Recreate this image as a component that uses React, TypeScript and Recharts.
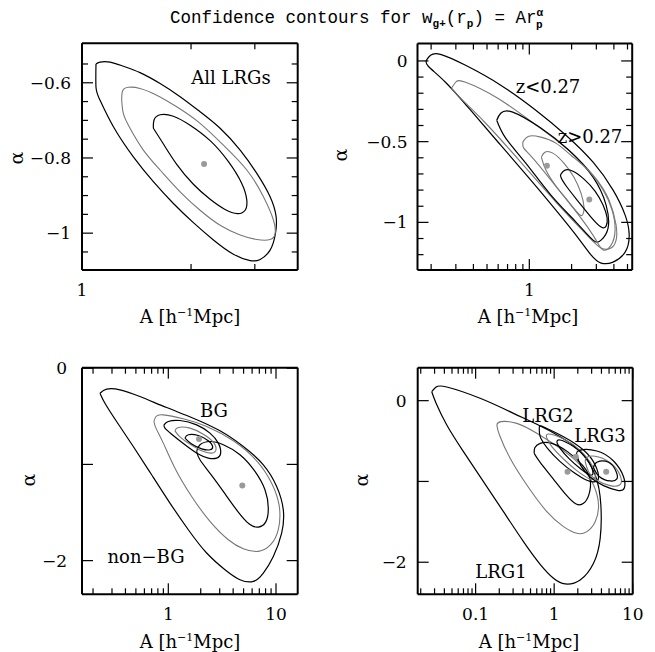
import React from 'react';
import { ComposedChart, Line, XAxis, YAxis } from 'recharts';

// contour vertices as [A, alpha]
// panel 1: all LRGs
const allOuter = [[1.093,-0.550],[1.121,-0.545],[1.195,-0.545],[1.301,-0.556],[1.446,-0.573],[1.643,-0.602],[1.866,-0.637],[2.118,-0.677],[2.406,-0.721],[2.733,-0.779],[3.038,-0.841],[3.306,-0.903],[3.435,-0.956],[3.420,-1.001],[3.306,-1.045],[3.103,-1.070],[2.912,-1.073],[2.618,-1.056],[2.306,-1.018],[2.030,-0.972],[1.788,-0.921],[1.574,-0.863],[1.386,-0.797],[1.221,-0.717],[1.121,-0.646],[1.093,-0.612],[1.093,-0.550]];
const allMid = [[1.287,-0.646],[1.295,-0.621],[1.343,-0.612],[1.446,-0.615],[1.608,-0.633],[1.826,-0.664],[2.118,-0.708],[2.457,-0.766],[2.851,-0.832],[3.169,-0.903],[3.377,-0.965],[3.413,-1.001],[3.306,-1.017],[3.038,-1.017],[2.733,-1.005],[2.406,-0.979],[2.118,-0.939],[1.866,-0.890],[1.643,-0.832],[1.477,-0.779],[1.357,-0.721],[1.301,-0.682],[1.287,-0.646]];
const allInner = [[1.574,-0.721],[1.581,-0.699],[1.643,-0.685],[1.788,-0.689],[1.988,-0.713],[2.258,-0.754],[2.537,-0.810],[2.761,-0.868],[2.851,-0.912],[2.821,-0.939],[2.686,-0.948],[2.483,-0.937],[2.258,-0.910],[2.030,-0.870],[1.826,-0.817],[1.678,-0.763],[1.574,-0.721]];
const allBest = [[2.173,-0.816]];

// panel 2: z<0.27 / z>0.27
const zA = [[0.185,0.004],[0.198,0.035],[0.233,0.041],[0.352,-0.027],[0.626,-0.150],[1.112,-0.305],[1.823,-0.460],[2.843,-0.627],[3.948,-0.800],[4.81,-0.955],[5.14,-1.079],[4.81,-1.184],[3.948,-1.246],[3.243,-1.252],[2.749,-1.202],[2.149,-1.079],[1.546,-0.924],[1.025,-0.738],[0.626,-0.522],[0.382,-0.305],[0.253,-0.132],[0.191,-0.033],[0.185,0.004]];
const zB = [[0.279,-0.169],[0.299,-0.132],[0.352,-0.132],[0.596,-0.231],[1.025,-0.373],[1.763,-0.528],[2.843,-0.707],[3.697,-0.862],[4.148,-1.017],[4.148,-1.110],[3.82,-1.159],[3.243,-1.159],[2.534,-1.073],[1.546,-0.874],[0.869,-0.627],[0.489,-0.386],[0.324,-0.231],[0.279,-0.169]];
const zC = [[0.586,-0.367],[0.626,-0.324],[0.762,-0.317],[1.208,-0.416],[1.915,-0.553],[2.843,-0.720],[3.52,-0.893],[3.636,-1.035],[3.243,-1.110],[2.843,-1.110],[2.149,-0.998],[1.425,-0.831],[0.944,-0.633],[0.679,-0.478],[0.586,-0.367]];
const zD = [[0.899,-0.503],[0.992,-0.466],[1.208,-0.472],[1.546,-0.509],[1.978,-0.584],[2.618,-0.676],[3.35,-0.800],[3.882,-0.924],[4.08,-1.048],[3.82,-1.141],[3.35,-1.171],[2.985,-1.110],[2.45,-0.998],[1.853,-0.862],[1.425,-0.738],[1.059,-0.602],[0.913,-0.540],[0.899,-0.503]];
const zE = [[1.218,-0.596],[1.291,-0.565],[1.472,-0.571],[1.763,-0.633],[2.079,-0.720],[2.333,-0.819],[2.45,-0.905],[2.41,-0.949],[2.258,-0.949],[1.884,-0.868],[1.546,-0.775],[1.312,-0.676],[1.218,-0.596]];
const zF = [[1.679,-0.701],[1.794,-0.676],[2.046,-0.683],[2.45,-0.732],[2.936,-0.806],[3.35,-0.893],[3.58,-0.973],[3.52,-1.023],[3.243,-1.029],[2.749,-0.967],[2.22,-0.868],[1.853,-0.781],[1.679,-0.720],[1.679,-0.701]];
const zBest = [[1.334,-0.650],[2.673,-0.858]];

// panel 3: BG / non-BG
const nbOuter = [[0.232,-0.260],[0.2676,-0.218],[0.3557,-0.225],[0.5455,-0.295],[0.965,-0.409],[1.707,-0.520],[3.018,-0.651],[4.971,-0.814],[7.623,-1.004],[10.14,-1.229],[11.69,-1.472],[11.28,-1.714],[9.44,-1.956],[7.623,-2.129],[6.155,-2.216],[4.628,-2.198],[3.359,-2.094],[2.27,-1.921],[1.534,-1.679],[1.036,-1.402],[0.700,-1.108],[0.473,-0.814],[0.331,-0.554],[0.258,-0.364],[0.232,-0.260]];
const nbMid = [[0.736,-0.554],[0.768,-0.502],[0.899,-0.485],[1.378,-0.526],[2.27,-0.606],[4.013,-0.755],[6.61,-0.963],[9.11,-1.195],[10.73,-1.437],[10.50,-1.679],[8.917,-1.835],[6.85,-1.904],[4.971,-1.876],[3.607,-1.783],[2.437,-1.592],[1.647,-1.333],[1.153,-1.039],[0.899,-0.779],[0.768,-0.623],[0.736,-0.554]];
const nbInner = [[1.833,-0.866],[1.968,-0.796],[2.437,-0.762],[3.242,-0.796],[4.628,-0.900],[6.378,-1.073],[7.90,-1.264],[8.48,-1.454],[8.01,-1.600],[6.85,-1.651],[5.65,-1.620],[4.372,-1.482],[3.288,-1.291],[2.472,-1.101],[1.968,-0.952],[1.833,-0.866]];
const bgOuter = [[0.912,-0.589],[1.0,-0.554],[1.283,-0.544],[1.833,-0.589],[2.437,-0.675],[2.913,-0.779],[3.062,-0.883],[2.811,-0.935],[2.352,-0.935],[1.899,-0.893],[1.428,-0.796],[1.074,-0.686],[0.931,-0.623],[0.912,-0.589]];
const bgMid = [[1.153,-0.651],[1.238,-0.616],[1.589,-0.623],[2.113,-0.686],[2.617,-0.769],[2.771,-0.848],[2.526,-0.883],[2.04,-0.859],[1.589,-0.789],[1.283,-0.713],[1.153,-0.651]];
const bgInner = [[1.428,-0.727],[1.534,-0.692],[1.899,-0.700],[2.352,-0.755],[2.58,-0.814],[2.437,-0.848],[2.04,-0.838],[1.647,-0.789],[1.428,-0.727]];
const bgBest = [[1.927,-0.737],[4.865,-1.219]];

// panel 4: LRG1 / LRG2 / LRG3
const l1Outer = [[0.02764,0.111],[0.03139,0.169],[0.04293,0.169],[0.1141,0.029],[0.3034,-0.157],[0.6015,-0.293],[1.192,-0.446],[2.144,-0.631],[3.330,-0.920],[3.931,-1.291],[3.855,-1.704],[3.170,-2.013],[2.144,-2.220],[1.381,-2.269],[0.9806,-2.199],[0.6633,-2.026],[0.4068,-1.745],[0.2262,-1.374],[0.1258,-1.002],[0.06998,-0.631],[0.04293,-0.301],[0.03139,-0.033],[0.02764,0.111]];
const l1Mid = [[0.1861,-0.301],[0.2092,-0.260],[0.3345,-0.281],[0.6015,-0.404],[1.192,-0.590],[2.144,-0.796],[3.170,-1.044],[3.671,-1.291],[3.330,-1.498],[2.607,-1.621],[1.944,-1.642],[1.315,-1.559],[0.8065,-1.374],[0.4485,-1.044],[0.2751,-0.714],[0.2012,-0.425],[0.1861,-0.301]];
const l1Inner = [[0.5561,-0.652],[0.5671,-0.582],[0.6633,-0.528],[0.9338,-0.528],[1.479,-0.631],[2.319,-0.804],[2.874,-0.982],[2.764,-1.167],[2.364,-1.271],[1.906,-1.279],[1.422,-1.167],[0.9617,-0.961],[0.6633,-0.763],[0.5561,-0.652]];
const l2Outer = [[0.6506,-0.404],[0.6506,-0.318],[0.768,-0.334],[1.315,-0.446],[2.364,-0.611],[3.330,-0.796],[3.671,-0.953],[3.330,-1.002],[2.607,-0.986],[1.763,-0.887],[1.192,-0.755],[0.8225,-0.590],[0.6763,-0.466],[0.6506,-0.404]];
const l2Mid = [[0.8065,-0.466],[0.8469,-0.413],[1.315,-0.474],[2.144,-0.615],[3.108,-0.817],[3.330,-0.941],[2.874,-0.969],[1.944,-0.866],[1.315,-0.722],[0.9338,-0.569],[0.8065,-0.466]];
const l2Inner = [[1.081,-0.516],[1.192,-0.487],[1.763,-0.569],[2.607,-0.722],[3.108,-0.879],[2.874,-0.920],[2.187,-0.846],[1.537,-0.714],[1.192,-0.590],[1.081,-0.516]];
const l3Outer = [[1.944,-0.672],[2.102,-0.615],[3.495,-0.623],[5.70,-0.747],[7.642,-0.941],[7.793,-1.085],[6.409,-1.110],[4.251,-1.052],[2.874,-0.945],[2.187,-0.804],[1.944,-0.672]];
const l3Mid = [[2.483,-0.755],[2.659,-0.697],[3.671,-0.697],[5.589,-0.796],[7.069,-0.953],[6.798,-1.044],[5.169,-1.052],[3.495,-0.986],[2.737,-0.879],[2.483,-0.755]];
const l3Inner = [[3.170,-0.829],[3.495,-0.763],[4.922,-0.763],[6.165,-0.879],[6.286,-0.969],[5.169,-0.994],[3.78,-0.941],[3.170,-0.829]];
const lrgBest = [[1.479,-0.879],[1.888,-0.693],[4.597,-0.879]];

// ticks and tick labels
const p1XTicks = [1, 2, 3];
const p1XLabels = [[1, '1']];
const p1YTicks = [-1.05, -1, -0.95, -0.9, -0.85, -0.8, -0.75, -0.7, -0.65, -0.6, -0.55];
const p1YLabels = [[-0.6, '−0.6'], [-0.8, '−0.8'], [-1, '−1']];
const p2XTicks = [0.2, 0.3, 0.4, 0.5, 0.6, 0.7, 0.8, 0.9, 1, 2, 3, 4, 5];
const p2XLabels = [[1, '1']];
const p2YTicks = [-1.2, -1.1, -1, -0.9, -0.8, -0.7, -0.6, -0.5, -0.4, -0.3, -0.2, -0.1, 0];
const p2YLabels = [[0, '0'], [-0.5, '−0.5'], [-1, '−1']];
const p3XTicks = [0.2, 0.3, 0.4, 0.5, 0.6, 0.7, 0.8, 0.9, 1, 2, 3, 4, 5, 6, 7, 8, 9, 10];
const p3XLabels = [[1, '1'], [10, '10']];
const p34YTicks = [-2, -1, 0];
const p34YLabels = [[0, '0'], [-2, '−2']];
const p4XTicks = [0.02, 0.03, 0.04, 0.05, 0.06, 0.07, 0.08, 0.09, 0.1, 0.2, 0.3, 0.4, 0.5, 0.6, 0.7, 0.8, 0.9, 1, 2, 3, 4, 5, 6, 7, 8, 9, 10];
const p4XLabels = [[0.1, '0.1'], [1, '1'], [10, '10']];

const BLACK = '#000';
const GREY = '#777';
const SERIF = 'DejaVu Serif';
const MINOR = 6;
const MAJOR = 11;
const THIN = 0.01; // an axis must have some size to be drawn

const toRows = (pts: number[][]) => pts.map(([a, al]) => ({ a, al }));
const near = (u: number, v: number) => Math.abs(u - v) < 1e-9;

// mirrored axes: the tick anchor arrives MINOR px inside the frame, step back to the edge and draw inward
function axisTick(side: string, majors: number[], labels: any[] | null, gap = 10) {
  return (p: any) => {
    const x = Number(p.x);
    const y = Number(p.y);
    const v = Number(p.payload.value);
    const len = majors.some((m) => near(m, v)) ? MAJOR : MINOR;
    let ex = x;
    let ey = y;
    let r = { x: 0, y: 0, w: 0, h: 0 };
    if (side === 'bottom') { ey = y + MINOR; r = { x: x - 0.6, y: ey - len, w: 1.2, h: len }; }
    if (side === 'top') { ey = y - MINOR; r = { x: x - 0.6, y: ey, w: 1.2, h: len }; }
    if (side === 'left') { ex = x - MINOR; r = { x: ex, y: y - 0.6, w: len, h: 1.2 }; }
    if (side === 'right') { ex = x + MINOR; r = { x: ex - len, y: y - 0.6, w: len, h: 1.2 }; }
    const lab = labels ? labels.find((l) => near(l[0], v)) : null;
    return (
      <g>
        <rect x={r.x} y={r.y} width={r.w} height={r.h} fill="#000" />
        {lab && side === 'bottom' && (
          <text x={x} y={ey + 26} textAnchor="middle" fontFamily={SERIF} fontSize={17} fill="#000">{lab[1]}</text>
        )}
        {lab && side === 'left' && (
          <text x={ex - gap} y={y + 6} textAnchor="end" fontFamily={SERIF} fontSize={17} fill="#000">{lab[1]}</text>
        )}
      </g>
    );
  };
}

const Panel = ({ chart, box, xDomain, yDomain, xTicks, yTicks, xMajor, yMajor, xLabels, yLabels, contours, best, gap }: any) => {
  const margin = {
    left: box.x0 - chart.left,
    top: box.y0 - chart.top,
    right: chart.left + chart.width - box.x1,
    bottom: chart.top + chart.height - box.y1,
  };
  const frame = { stroke: '#000', strokeWidth: 2 };
  const xCommon = { dataKey: 'a', type: 'number' as const, scale: 'log' as const, domain: xDomain, allowDataOverflow: true, interval: 0, height: THIN, tickSize: MINOR, tickMargin: 0, mirror: true, tickLine: false, axisLine: frame, ticks: xTicks };
  const yCommon = { type: 'number' as const, domain: yDomain, allowDataOverflow: true, interval: 0, width: THIN, tickSize: MINOR, tickMargin: 0, mirror: true, tickLine: false, axisLine: frame, ticks: yTicks };
  return (
    <div style={{ position: 'absolute', left: chart.left, top: chart.top }}>
      <ComposedChart width={chart.width} height={chart.height} margin={margin}>
        <XAxis xAxisId="b" {...xCommon} tick={axisTick('bottom', xMajor, xLabels)} />
        <XAxis xAxisId="t" {...xCommon} orientation="top" tick={axisTick('top', xMajor, null)} />
        <YAxis yAxisId="l" {...yCommon} tick={axisTick('left', yMajor, yLabels, gap)} />
        <YAxis yAxisId="r" {...yCommon} orientation="right" tick={axisTick('right', yMajor, null)} />
        {contours.map((c: any, i: number) => (
          <Line key={i} xAxisId="b" yAxisId="l" data={toRows(c.pts)} dataKey="al" type="natural" stroke={c.color} strokeWidth={c.color === BLACK ? 1.2 : 1.1} dot={false} isAnimationActive={false} />
        ))}
        <Line xAxisId="t" yAxisId="r" data={toRows(best)} dataKey="al" stroke="none" dot={{ r: 3, fill: '#9a9a9a', stroke: 'none' }} isAnimationActive={false} />
      </ComposedChart>
    </div>
  );
};

const XTitle = ({ cx, y }: any) => (
  <text x={cx} y={y} textAnchor="middle" fontFamily={SERIF} fontSize={18}>
    A [h<tspan dy={-7} fontSize={11}>−1</tspan><tspan dy={7}>Mpc]</tspan>
  </text>
);

const Alpha = ({ x, y }: any) => (
  <text x={x} y={y} textAnchor="middle" fontFamily={SERIF} fontSize={19} transform={`rotate(-90 ${x} ${y})`} dominantBaseline="middle">α</text>
);

const Note = ({ x, y, children }: any) => (
  <text x={x} y={y} textAnchor="middle" fontFamily={SERIF} fontSize={18}>{children}</text>
);

export default function App() {
  return (
    <div style={{ position: 'absolute', left: 0, top: 0, width: 655, height: 652, background: '#fff' }}>
      <Panel
        chart={{ left: 0, top: 30, width: 327, height: 300 }}
        box={{ x0: 82, x1: 297.7, y0: 43.3, y1: 270 }}
        xDomain={[1, 3.94]} yDomain={[-1.098, -0.495]}
        xTicks={p1XTicks} yTicks={p1YTicks} xMajor={[1]} yMajor={[-0.6, -0.8, -1]}
        xLabels={p1XLabels} yLabels={p1YLabels} gap={11}
        contours={[{ pts: allOuter, color: BLACK }, { pts: allMid, color: GREY }, { pts: allInner, color: BLACK }]}
        best={allBest}
      />
      <Panel
        chart={{ left: 330, top: 30, width: 325, height: 300 }}
        box={{ x0: 417.5, x1: 632.2, y0: 43.5, y1: 270 }}
        xDomain={[0.16, 5.4]} yDomain={[-1.295, 0.108]}
        xTicks={p2XTicks} yTicks={p2YTicks} xMajor={[1]} yMajor={[0, -0.5, -1]}
        xLabels={p2XLabels} yLabels={p2YLabels} gap={10}
        contours={[{ pts: zA, color: BLACK }, { pts: zB, color: GREY }, { pts: zC, color: BLACK }, { pts: zD, color: GREY }, { pts: zE, color: GREY }, { pts: zF, color: BLACK }]}
        best={zBest}
      />
      <Panel
        chart={{ left: 0, top: 350, width: 327, height: 302 }}
        box={{ x0: 82, x1: 297.7, y0: 367.7, y1: 594.3 }}
        xDomain={[0.158, 15.9]} yDomain={[-2.35, 0.005]}
        xTicks={p3XTicks} yTicks={p34YTicks} xMajor={[1, 10]} yMajor={[0, -1, -2]}
        xLabels={p3XLabels} yLabels={p34YLabels} gap={15}
        contours={[{ pts: nbOuter, color: BLACK }, { pts: nbMid, color: GREY }, { pts: nbInner, color: BLACK }, { pts: bgOuter, color: BLACK }, { pts: bgMid, color: GREY }, { pts: bgInner, color: BLACK }]}
        best={bgBest}
      />
      <Panel
        chart={{ left: 330, top: 350, width: 325, height: 302 }}
        box={{ x0: 417.7, x1: 632.7, y0: 367.7, y1: 594.3 }}
        xDomain={[0.0183, 10]} yDomain={[-2.397, 0.408]}
        xTicks={p4XTicks} yTicks={p34YTicks} xMajor={[0.1, 1, 10]} yMajor={[0, -1, -2]}
        xLabels={p4XLabels} yLabels={p34YLabels} gap={11}
        contours={[{ pts: l1Outer, color: BLACK }, { pts: l1Mid, color: GREY }, { pts: l1Inner, color: BLACK }, { pts: l2Outer, color: BLACK }, { pts: l2Mid, color: GREY }, { pts: l2Inner, color: BLACK }, { pts: l3Outer, color: BLACK }, { pts: l3Mid, color: GREY }, { pts: l3Inner, color: BLACK }]}
        best={lrgBest}
      />
      <svg width={655} height={652} style={{ position: 'absolute', left: 0, top: 0, pointerEvents: 'none' }}>
        <text x={170} y={23} fontFamily="Liberation Mono" fontSize={17.5}>
          Confidence contours for w<tspan dy={4} fontSize={11} fontWeight="bold">g+</tspan>
          <tspan dy={-4}>(r</tspan><tspan dy={4} fontSize={11} fontWeight="bold">p</tspan>
          <tspan dy={-4}>) = Ar</tspan><tspan dy={-7} fontSize={11} fontWeight="bold">α</tspan>
          <tspan dx={-7} dy={12} fontSize={11} fontWeight="bold">p</tspan>
        </text>
        <XTitle cx={190} y={323} />
        <XTitle cx={528} y={323} />
        <XTitle cx={190} y={648} />
        <XTitle cx={529} y={648} />
        <Alpha x={18} y={158} />
        <Alpha x={342} y={155} />
        <Alpha x={30} y={480} />
        <Alpha x={363} y={480} />
        <Note x={231} y={84}>All LRGs</Note>
        <Note x={548} y={93}>z&lt;0.27</Note>
        <Note x={590} y={143}>z&gt;0.27</Note>
        <Note x={214} y={417}>BG</Note>
        <Note x={146} y={563}>non−BG</Note>
        <Note x={548} y={422}>LRG2</Note>
        <Note x={600} y={442}>LRG3</Note>
        <Note x={501} y={578}>LRG1</Note>
      </svg>
    </div>
  );
}
